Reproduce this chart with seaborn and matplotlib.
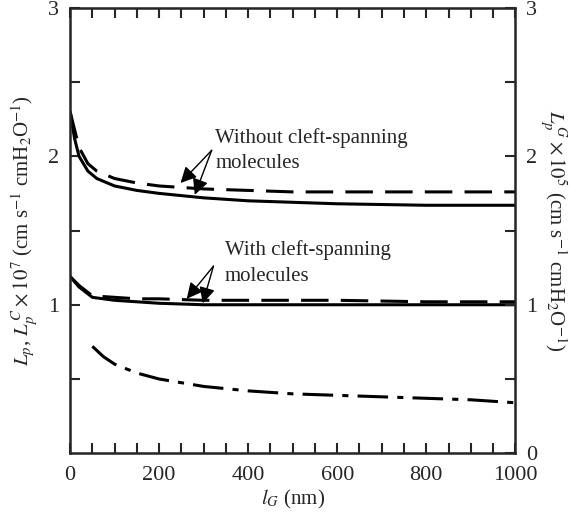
import numpy as np
import pandas as pd
import seaborn as sns
import matplotlib
matplotlib.use("Agg")
import matplotlib.pyplot as plt

sns.set_style("ticks")
plt.rcParams['font.family'] = ['Liberation Serif', 'DejaVu Serif']
plt.rcParams['mathtext.fontset'] = 'stix'

# Data
x_without = [0, 10, 20, 40, 60, 100, 150, 200, 300, 400, 500, 600, 800, 1000]
lp_without = [2.30, 2.12, 2.00, 1.90, 1.85, 1.80, 1.77, 1.75, 1.72, 1.70, 1.69, 1.68, 1.67, 1.67]
lpc_without = [2.30, 2.18, 2.06, 1.95, 1.90, 1.85, 1.82, 1.80, 1.78, 1.77, 1.76, 1.76, 1.76, 1.76]

x_with = [0, 20, 50, 100, 150, 200, 300, 400, 600, 800, 1000]
lp_with = [1.19, 1.12, 1.05, 1.03, 1.02, 1.01, 1.00, 1.00, 1.00, 1.00, 1.00]
lpc_with = [1.19, 1.13, 1.06, 1.05, 1.04, 1.04, 1.03, 1.03, 1.03, 1.02, 1.02]

x_g = [50, 75, 100, 150, 200, 300, 400, 500, 600, 700, 800, 900, 1000]
lpg = [0.72, 0.65, 0.60, 0.54, 0.50, 0.45, 0.42, 0.40, 0.39, 0.38, 0.37, 0.36, 0.34]

fig = plt.figure(figsize=(5.7, 5.18), dpi=100)
ax = fig.add_axes([0.123, 0.125, 0.781, 0.86])

lw = 2.2
sns.lineplot(x=x_without, y=lp_without, ax=ax, color='black', lw=lw)
sns.lineplot(x=x_without, y=lpc_without, ax=ax, color='black', lw=lw)
ax.lines[-1].set_dashes([9, 4])
sns.lineplot(x=x_with, y=lp_with, ax=ax, color='black', lw=lw)
sns.lineplot(x=x_with, y=lpc_with, ax=ax, color='black', lw=lw)
ax.lines[-1].set_dashes([9, 4])
sns.lineplot(x=x_g, y=lpg, ax=ax, color='black', lw=lw)
ax.lines[-1].set_dashes([10, 3, 2, 3])

ax.set_xlim(0, 1000)
ax.set_ylim(0, 3)
ax.set_xticks([0, 200, 400, 600, 800, 1000])
ax.set_xticks(np.arange(0, 1001, 50), minor=True)
ax.set_yticks([1, 2, 3])
ax.set_yticks([0.5, 1.5, 2.5], minor=True)
ax.tick_params(which='both', direction='in', top=True, right=False, labelsize=16,
               width=1.5, length=7)
ax.tick_params(axis='x', pad=9)
ax.tick_params(axis='y', pad=8)
for s in ax.spines.values():
    s.set_linewidth(1.8)

ax2 = ax.twinx()
ax2.set_ylim(0, 3)
ax2.set_yticks([0, 1, 2, 3])
ax2.set_yticks([0.5, 1.5, 2.5], minor=True)
ax2.tick_params(which='both', direction='in', labelsize=16, width=1.5, length=7, pad=8)

ax.set_xlabel(r'$l_G$ (nm)', fontsize=15, labelpad=2)
ax.set_ylabel(r'$L_p$, $L_p^{\,C} \times 10^7$ (cm s$^{-1}$ cmH$_2$O$^{-1}$)', fontsize=15, labelpad=6)
ax2.set_ylabel(r'$L_p^{\,G} \times 10^5$ (cm s$^{-1}$ cmH$_2$O$^{-1}$)', fontsize=15, rotation=270, labelpad=22)

ap = dict(arrowstyle='-|>', color='black', lw=1.0, mutation_scale=24, shrinkA=0, shrinkB=0)
ax.text(326, 2.12, 'Without cleft-spanning', fontsize=15, va='center', ha='left')
ax.text(326, 1.95, 'molecules', fontsize=15, va='center', ha='left')
ax.annotate('', xy=(248, 1.82), xytext=(318, 2.04), arrowprops=ap)
ax.annotate('', xy=(280, 1.74), xytext=(318, 2.04), arrowprops=ap)

ax.text(348, 1.37, 'With cleft-spanning', fontsize=15, va='center', ha='left')
ax.text(348, 1.19, 'molecules', fontsize=15, va='center', ha='left')
ax.annotate('', xy=(262, 1.04), xytext=(322, 1.26), arrowprops=ap)
ax.annotate('', xy=(298, 1.01), xytext=(322, 1.26), arrowprops=ap)

fig.savefig('out.png', dpi=100)
